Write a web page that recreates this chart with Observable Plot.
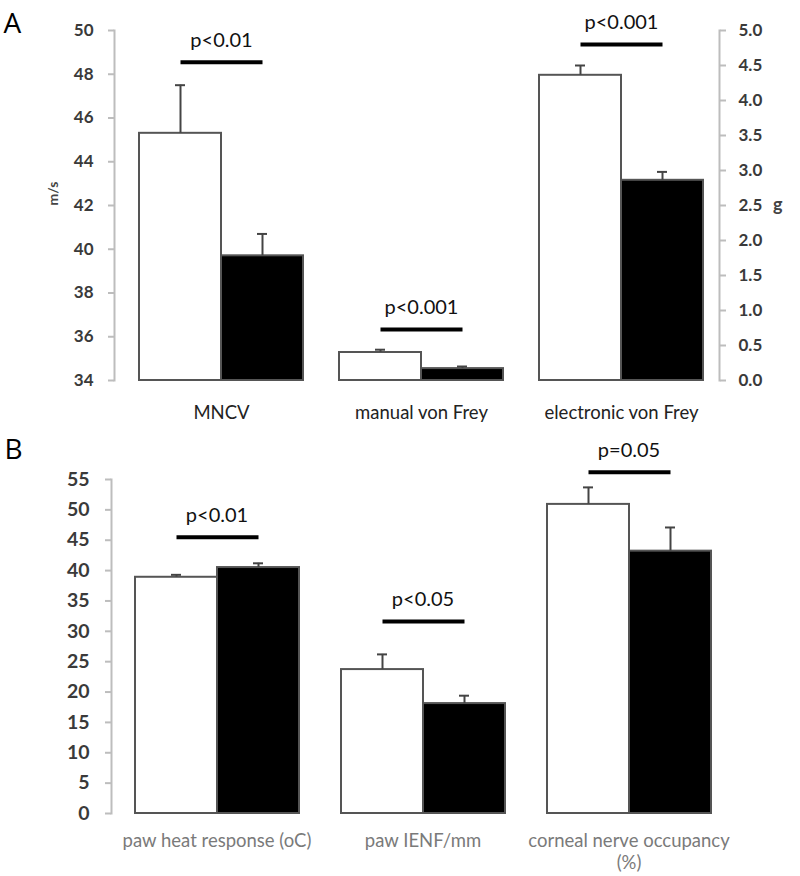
<!DOCTYPE html>
<html><head><meta charset="utf-8">
<script src="https://cdn.jsdelivr.net/npm/d3@7"></script>
<script src="https://cdn.jsdelivr.net/npm/@observablehq/plot@0.6"></script>
<style>
body{margin:0;background:#fff;font-family:Lato,"Open Sans",sans-serif}
#wrap{position:relative;width:800px;height:876px;overflow:hidden}
.panel{position:absolute;left:0}
</style></head><body>
<div id="wrap">
  <div id="pa" class="panel" style="top:0"></div>
  <div id="pb" class="panel" style="top:430px"></div>
</div>
<script>
// ---- data ----
const groups = ["control", "diabetic"];

// Panel A
const panelA = "A";
const catsA = ["MNCV", "manual von Frey", "electronic von Frey"];
const unitsA = ["m/s", "g", "g"];
const meanA = [[45.3, 39.7], [0.40, 0.17], [4.36, 2.86]];
const semA = [[2.2, 1.0], [0.04, 0.03], [0.14, 0.12]];
const pLabelA = ["p<0.01", "p<0.001", "p<0.001"];
const pLevelA = [48.55, 36.33, 49.36];          // in m/s axis units
const msTicks = [34, 36, 38, 40, 42, 44, 46, 48, 50];
const gTicks = [0, 0.5, 1, 1.5, 2, 2.5, 3, 3.5, 4, 4.5, 5];

// Panel B
const panelB = "B";
const catsB = ["paw heat response (oC)", "paw IENF/mm", "corneal nerve occupancy (%)"];
const meanB = [[38.9, 40.5], [23.7, 18.1], [50.9, 43.2]];
const semB = [[0.4, 0.7], [2.5, 1.3], [2.8, 3.9]];
const pLabelB = ["p<0.01", "p<0.05", "p=0.05"];
const pLevelB = [45.5, 31.6, 56.2];
const bTicks = [0, 5, 10, 15, 20, 25, 30, 35, 40, 45, 50, 55];

// ---- helpers ----
const msDomain = [34, 50], gDomain = [0, 5];
const gToMs = d3.scaleLinear().domain(gDomain).range(msDomain);

const rowsA = catsA.flatMap((c, i) => groups.map((g, j) => {
  const conv = unitsA[i] === "g" ? gToMs : (v => v);
  return {cat: c, group: g, mean: conv(meanA[i][j]), top: conv(meanA[i][j] + semA[i][j])};
}));
const pA = catsA.map((c, i) => ({cat: c, label: pLabelA[i], y: pLevelA[i]}));

const rowsB = catsB.flatMap((c, i) => groups.map((g, j) => ({
  cat: c, group: g, mean: meanB[i][j], top: meanB[i][j] + semB[i][j]
})));
const pB = catsB.map((c, i) => ({cat: c, label: pLabelB[i], y: pLevelB[i]}));

const tickColor = "#3a3a3a";
const axisLine = "#bdbdbd";

function barMarks(rows, base, pdata) {
  return [
    Plot.barY(rows, {fx: "cat", x: "group", y1: base, y2: "mean", fill: "group",
      stroke: "#555", strokeWidth: 2}),
    Plot.ruleX(rows, {fx: "cat", x: "group", y1: "mean", y2: "top", stroke: "#444", strokeWidth: 2}),
    Plot.tickY(rows, {fx: "cat", x: "group", y: "top", stroke: "#444", strokeWidth: 2,
      insetLeft: 36, insetRight: 36}),
    Plot.link(pdata, {fx: "cat", x1: () => "control", x2: () => "diabetic", y1: "y", y2: "y",
      stroke: "black", strokeWidth: 4}),
    Plot.text(pdata, {fx: "cat", y: "y", text: "label", dy: -22, fontSize: 20,
      fill: "#111", fontFamily: "Lato"})
  ];
}

function letterMark(letter, dx, dy) {
  return Plot.text([letter], {frameAnchor: "top-left", facetAnchor: "left", dx, dy,
    textAnchor: "start", lineAnchor: "bottom", fontSize: 28, fontFamily: "Open Sans", fill: "#000"});
}

// ---- Panel A ----
const chartA = Plot.plot({
  width: 800, height: 430,
  marginTop: 30, marginBottom: 50, marginLeft: 138, marginRight: 96,
  style: {fontFamily: "Lato, sans-serif", background: "white", overflow: "visible"},
  fx: {domain: catsA, paddingInner: 0.18, paddingOuter: 0, label: null},
  x: {domain: groups, padding: 0, axis: null},
  y: {domain: msDomain, label: null},
  color: {domain: groups, range: ["white", "black"]},
  marks: [
    letterMark(panelA, -136, 2),
    Plot.frame({anchor: "left", facetAnchor: "left", dx: -25, stroke: axisLine, strokeWidth: 2}),
    Plot.frame({anchor: "right", facetAnchor: "right", dx: 16, stroke: axisLine, strokeWidth: 2}),
    Plot.axisY({anchor: "left", ticks: msTicks, tickFormat: d => d, dx: -25, tickSize: 6,
      tickPadding: 15, stroke: axisLine, strokeWidth: 2, fill: tickColor, fontWeight: "bold",
      fontSize: 17, label: null}),
    Plot.axisY({anchor: "right", ticks: gTicks.map(gToMs), tickFormat: v => gToMs.invert(v).toFixed(1),
      dx: 16, tickSize: 6, tickPadding: 13, stroke: axisLine, strokeWidth: 2, fill: tickColor,
      fontWeight: "bold", fontSize: 17, label: null}),
    Plot.axisFx({anchor: "bottom", tickSize: 0, tickPadding: 25, fontSize: 18.5, fill: "#222", label: null}),
    Plot.text(["m/s"], {frameAnchor: "left", facetAnchor: "left", dx: -86, rotate: -90,
      fontSize: 14, fill: "#444", fontWeight: "bold"}),
    Plot.text(["g"], {frameAnchor: "right", facetAnchor: "right", dx: 79, fontSize: 18,
      fill: "#444", fontWeight: "bold"}),
    ...barMarks(rowsA, msDomain[0], pA)
  ]
});
document.getElementById("pa").appendChild(chartA);

// ---- Panel B ----
const chartB = Plot.plot({
  width: 800, height: 446,
  marginTop: 49, marginBottom: 63, marginLeft: 133, marginRight: 87,
  style: {fontFamily: "Lato, sans-serif", background: "white", overflow: "visible"},
  fx: {domain: catsB, paddingInner: 0.198, paddingOuter: 0, label: null},
  x: {domain: groups, padding: 0, axis: null},
  y: {domain: [0, 55], label: null},
  color: {domain: groups, range: ["white", "black"]},
  marks: [
    letterMark(panelB, -130, -21),
    Plot.frame({anchor: "left", facetAnchor: "left", dx: -23, stroke: axisLine, strokeWidth: 2}),
    Plot.axisY({anchor: "left", ticks: bTicks, dx: -23, tickSize: 6, tickPadding: 16,
      stroke: axisLine, strokeWidth: 2, fill: tickColor, fontWeight: "bold", fontSize: 19.5, label: null}),
    Plot.axisFx({anchor: "bottom", tickSize: 0, tickPadding: 18, fontSize: 18.5, fill: "#7a7a7a",
      lineHeight: 1.2, label: null,
      tickFormat: d => d === "corneal nerve occupancy (%)" ? "corneal nerve occupancy\n(%)" : d}),
    ...barMarks(rowsB, 0, pB)
  ]
});
document.getElementById("pb").appendChild(chartB);
</script>
</body></html>
